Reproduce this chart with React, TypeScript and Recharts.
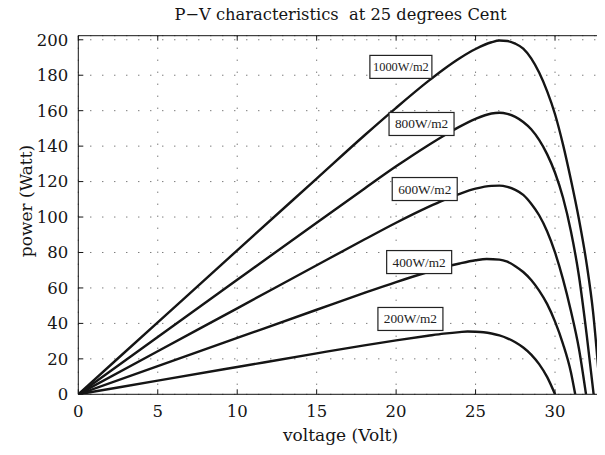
import React from 'react';
import { LineChart, Line, XAxis, YAxis, CartesianGrid, ReferenceDot } from 'recharts';

// ---- data ----
const xTicks = [0, 5, 10, 15, 20, 25, 30];
const yTicks = [0, 20, 40, 60, 80, 100, 120, 140, 160, 180, 200];
const xMax = 33;
const yMax = 202.3;

const v1000 = [0, 5, 10, 15, 18, 20, 22, 23, 24, 25, 26, 26.5, 27, 27.5, 28, 28.5, 29, 29.5, 30, 30.5, 31, 31.5, 32, 32.4, 32.85];
const p1000 = [0, 40.6, 81.2, 121.7, 146, 161.6, 176.5, 183.4, 189.6, 194.8, 198.6, 199.6, 199.3, 197.8, 195, 189.5, 181.5, 171, 158, 141, 121, 99, 73, 46, 0];

const v800 = [0, 5, 10, 15, 18, 20, 22, 23, 24, 25, 26, 26.5, 27, 27.5, 28, 28.5, 29, 29.5, 30, 30.5, 31, 31.5, 32, 32.43];
const p800 = [0, 32.3, 64.6, 96.8, 116, 128.6, 140.4, 145.9, 151, 155.4, 158.4, 158.8, 158.2, 156.5, 153.6, 149.5, 143.5, 135.5, 125, 111, 92, 67, 33, 0];

const v600 = [0, 5, 10, 15, 18, 20, 22, 23, 24, 25, 26, 26.5, 27, 27.5, 28, 28.5, 29, 29.5, 30, 30.5, 31, 31.5, 31.95];
const p600 = [0, 24.3, 48.5, 72.8, 87.3, 96.8, 105.6, 109.6, 113.1, 116, 117.6, 117.7, 117, 115.3, 112.5, 107.5, 101, 92, 80, 65, 47, 26, 0];

const v400 = [0, 5, 10, 15, 18, 20, 22, 23, 24, 25, 25.7, 26.5, 27, 27.5, 28, 28.5, 29, 29.5, 30, 30.5, 31, 31.27];
const p400 = [0, 15.9, 31.8, 47.7, 57.2, 63.3, 69, 71.6, 73.8, 75.6, 76.3, 76, 74.8, 72.3, 69, 64.5, 58.5, 51, 41, 28.5, 12.5, 0];

const v200 = [0, 5, 10, 15, 18, 20, 22, 23, 24, 24.5, 25, 25.5, 26, 26.5, 27, 27.5, 28, 28.5, 29, 29.5, 30];
const p200 = [0, 7.7, 15.4, 23.1, 27.6, 30.4, 33, 34.2, 35.1, 35.4, 35.3, 35, 34.3, 33.2, 31.6, 29.4, 26.4, 22.4, 17, 9.8, 0];

const labelTexts = ['1000W/m2', '800W/m2', '600W/m2', '400W/m2', '200W/m2'];
const labelV = [20.3, 21.6, 21.8, 21.45, 20.9];
const labelP = [184.7, 152.5, 115.8, 74.6, 42.5];

const zip = (vs: number[], ps: number[]) => vs.map((v, i) => ({ v, p: ps[i] }));
const series = [zip(v1000, p1000), zip(v800, p800), zip(v600, p600), zip(v400, p400), zip(v200, p200)];

const FONT = '"DejaVu Serif", serif';
const INK = '#151515';

// plot box layout (px)
const W = 605;
const H = 455;
const PL = 78.3;
const PT = 35.7;
const PR = 2.3;
const XAH = 60.7;
const PW = W - PL - PR;
const PH = H - PT - XAH;
const TICK = 5;

const boxW = [62, 65, 65, 65, 65];
const boxFs = [12.4, 13.3, 13.3, 13.3, 13.3];

const makeBox = (i: number) => (props: any) => {
  const { cx, cy } = props;
  const w = boxW[i];
  return (
    <g>
      <rect x={cx - w / 2} y={cy - 11.5} width={w} height={23} fill="#fff" stroke="#222" strokeWidth={1.2} />
      <text x={cx} y={cy + 4.5} textAnchor="middle" fontFamily='"Liberation Serif", serif' fontSize={boxFs[i]} fill="#222">
        {labelTexts[i]}
      </text>
    </g>
  );
};

export default function App() {
  return (
    <div style={{ position: 'relative', margin: '-8px 0 -8px -8px', width: W, height: H }}>
      <LineChart width={W} height={H} margin={{ top: PT, right: PR, bottom: 0, left: 0 }}>
        <CartesianGrid stroke="#444" strokeDasharray="1 11" strokeWidth={1} />
        <XAxis
          dataKey="v"
          type="number"
          domain={[0, xMax]}
          ticks={xTicks}
          allowDataOverflow
          height={XAH}
          tickSize={-TICK}
          tickMargin={16}
          axisLine={{ stroke: INK }}
          tickLine={{ stroke: INK }}
          tick={{ fill: INK, fontFamily: FONT, fontSize: 16.5 }}
        />
        <YAxis
          type="number"
          domain={[0, yMax]}
          ticks={yTicks}
          allowDataOverflow
          width={PL}
          tickSize={-TICK}
          tickMargin={15}
          axisLine={{ stroke: INK }}
          tickLine={{ stroke: INK }}
          tick={{ fill: INK, fontFamily: FONT, fontSize: 16.5 }}
        />
        {series.map((d, i) => (
          <Line
            key={i}
            data={d}
            dataKey="p"
            type="monotone"
            stroke={INK}
            strokeWidth={2.4}
            dot={false}
            activeDot={false}
            isAnimationActive={false}
          />
        ))}
        {labelTexts.map((t, i) => (
          <ReferenceDot key={t} x={labelV[i]} y={labelP[i]} r={0} shape={makeBox(i)} />
        ))}
      </LineChart>
      <svg width={W} height={H} style={{ position: 'absolute', left: 0, top: 0, pointerEvents: 'none' }}>
        {/* top and right edges of the axes box, with inward ticks */}
        <line x1={PL} y1={PT} x2={PL + PW} y2={PT} stroke={INK} strokeWidth={1} />
        <line x1={PL + PW} y1={PT} x2={PL + PW} y2={PT + PH} stroke={INK} strokeWidth={1} />
        {xTicks.map((x) => {
          const px = PL + (x / xMax) * PW;
          return <line key={'tx' + x} x1={px} y1={PT} x2={px} y2={PT + TICK} stroke={INK} strokeWidth={1} />;
        })}
        {yTicks.map((y) => {
          const py = PT + PH - (y / yMax) * PH;
          return <line key={'ty' + y} x1={PL + PW - TICK} y1={py} x2={PL + PW} y2={py} stroke={INK} strokeWidth={1} />;
        })}
        <text x={340.5} y={20} textAnchor="middle" fontFamily={FONT} fontSize={16.3} fill={INK} style={{ whiteSpace: 'pre' }}>
          {'P\u2212V characteristics  at 25 degrees Cent'}
        </text>
        <text x={0} y={0} transform="translate(32,201) rotate(-90)" textAnchor="middle" fontFamily={FONT} fontSize={17} fill={INK}>
          power (Watt)
        </text>
        <text x={340.5} y={441} textAnchor="middle" fontFamily={FONT} fontSize={17} fill={INK}>
          voltage (Volt)
        </text>
      </svg>
    </div>
  );
}
